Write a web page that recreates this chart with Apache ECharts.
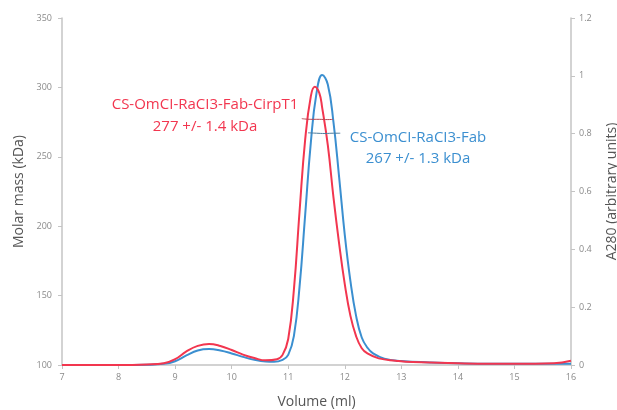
<!DOCTYPE html>
<html>
<head>
<meta charset="utf-8">
<script src="https://cdn.jsdelivr.net/npm/echarts@6/dist/echarts.min.js"></script>
<style>
  html, body { margin: 0; padding: 0; background: #fff; }
  #chart { width: 617px; height: 410px; }
</style>
</head>
<body>
<div id="chart"></div>
<script>
// A280 traces (volume ml, absorbance)
const redVolume = [7, 8, 8.5, 8.8, 9.0, 9.2, 9.4, 9.6, 9.8, 10.0, 10.2, 10.4, 10.6, 10.8, 10.9, 11.0, 11.1, 11.2, 11.3, 11.4, 11.47, 11.55, 11.6, 11.7, 11.8, 11.9, 12.0, 12.1, 12.2, 12.3, 12.4, 12.6, 12.9, 13.2, 14, 15, 15.7, 16]
const redA280 = [0, 0, 0.002, 0.006, 0.02, 0.047, 0.066, 0.073, 0.066, 0.052, 0.036, 0.024, 0.016, 0.02, 0.035, 0.09, 0.26, 0.53, 0.78, 0.93, 0.962, 0.94, 0.89, 0.76, 0.58, 0.42, 0.28, 0.17, 0.1, 0.058, 0.04, 0.023, 0.015, 0.01, 0.006, 0.004, 0.006, 0.015]

const blueVolume = [7, 8, 8.5, 8.8, 9.0, 9.2, 9.4, 9.6, 9.8, 10.0, 10.2, 10.4, 10.6, 10.75, 10.9, 11.0, 11.1, 11.2, 11.3, 11.4, 11.5, 11.6, 11.7, 11.8, 11.9, 12.0, 12.1, 12.2, 12.3, 12.4, 12.5, 12.7, 13.0, 13.5, 14, 15, 16]
const blueA280 = [0, 0, 0.001, 0.004, 0.013, 0.033, 0.05, 0.055, 0.05, 0.04, 0.028, 0.018, 0.012, 0.011, 0.018, 0.035, 0.1, 0.27, 0.52, 0.77, 0.94, 1.003, 0.97, 0.84, 0.65, 0.45, 0.29, 0.17, 0.095, 0.06, 0.04, 0.022, 0.014, 0.009, 0.006, 0.004, 0.004]

// molar mass across the peak (kDa)
const redMassVolume = [11.24, 11.4, 11.55, 11.7, 11.79]
const redMass = [277.5, 277, 277, 276.8, 277]
const blueMassVolume = [11.35, 11.5, 11.65, 11.8, 11.92]
const blueMass = [267.3, 267, 266.8, 267, 267]

const leftTicks = [100, 150, 200, 250, 300, 350]
const rightTicks = [0, 0.2, 0.4, 0.6, 0.8, 1, 1.2]

const redLabel = ['CS-OmCI-RaCI3-Fab-CirpT1', '277 +/- 1.4 kDa']
const blueLabel = ['CS-OmCI-RaCI3-Fab', '267 +/- 1.3 kDa']

const RED = '#f2364f'
const BLUE = '#3b8fd0'

const pairs = (xs, ys) => xs.map((x, i) => [x, ys[i]])

const chart = echarts.init(document.getElementById('chart'))

const axisCommon = {
  axisLine: { show: true, lineStyle: { color: '#c4c4c4', width: 1.5 } },
  axisTick: { show: true, length: 4, lineStyle: { color: '#c4c4c4' } },
  axisLabel: { color: '#8a8a8a', fontSize: 9, fontFamily: 'Open Sans' },
  splitLine: { show: false },
  nameTextStyle: { color: '#555', fontSize: 14, fontFamily: 'Open Sans' }
}

const traceLine = (xs, ys, color, z) => ({
  type: 'line',
  yAxisIndex: 1,
  data: pairs(xs, ys),
  smooth: 0.45,
  showSymbol: false,
  lineStyle: { color, width: 2 },
  z
})

chart.setOption({
  animation: false,
  grid: { left: 62, right: 46, top: 18, bottom: 45, outerBoundsMode: 'none', containLabel: false },
  xAxis: {
    ...axisCommon,
    type: 'value',
    min: 7,
    max: 16,
    interval: 1,
    name: 'Volume (ml)',
    nameLocation: 'middle',
    nameGap: 30,
    axisLabel: { ...axisCommon.axisLabel, margin: 8 }
  },
  yAxis: [
    {
      ...axisCommon,
      type: 'value',
      min: 100,
      max: 350,
      interval: 50,
      name: 'Molar mass (kDa)',
      nameLocation: 'middle',
      nameGap: 36,
      axisLabel: { ...axisCommon.axisLabel, margin: 10, formatter: v => leftTicks.includes(v) ? String(v) : '' }
    },
    {
      ...axisCommon,
      type: 'value',
      position: 'right',
      min: 0,
      max: 1.2,
      interval: 0.2,
      name: 'A280 (arbitrary units)',
      nameLocation: 'middle',
      nameGap: 34,
      nameRotate: 90,
      axisLabel: {
        ...axisCommon.axisLabel,
        margin: 8,
        formatter: v => {
          const t = rightTicks.find(r => Math.abs(r - v) < 1e-6)
          return t === undefined ? '' : String(t)
        }
      }
    }
  ],
  series: [
    traceLine(blueVolume, blueA280, BLUE, 2),
    traceLine(redVolume, redA280, RED, 3),
    {
      type: 'line',
      yAxisIndex: 0,
      data: pairs(redMassVolume, redMass),
      smooth: true,
      showSymbol: false,
      lineStyle: { color: '#b8434f', width: 1 },
      z: 4
    },
    {
      type: 'line',
      yAxisIndex: 0,
      data: pairs(blueMassVolume, blueMass),
      smooth: true,
      showSymbol: false,
      lineStyle: { color: '#4a7a9c', width: 1 },
      z: 4
    }
  ],
  graphic: [
    {
      type: 'text',
      x: 205,
      y: 94,
      style: {
        text: redLabel.join('\n'),
        fill: RED,
        font: '15px "Open Sans"',
        align: 'center',
        lineHeight: 22
      }
    },
    {
      type: 'text',
      x: 418,
      y: 127,
      style: {
        text: blueLabel.join('\n'),
        fill: BLUE,
        font: '15px "Open Sans"',
        align: 'center',
        lineHeight: 21
      }
    }
  ]
})
</script>
</body>
</html>
